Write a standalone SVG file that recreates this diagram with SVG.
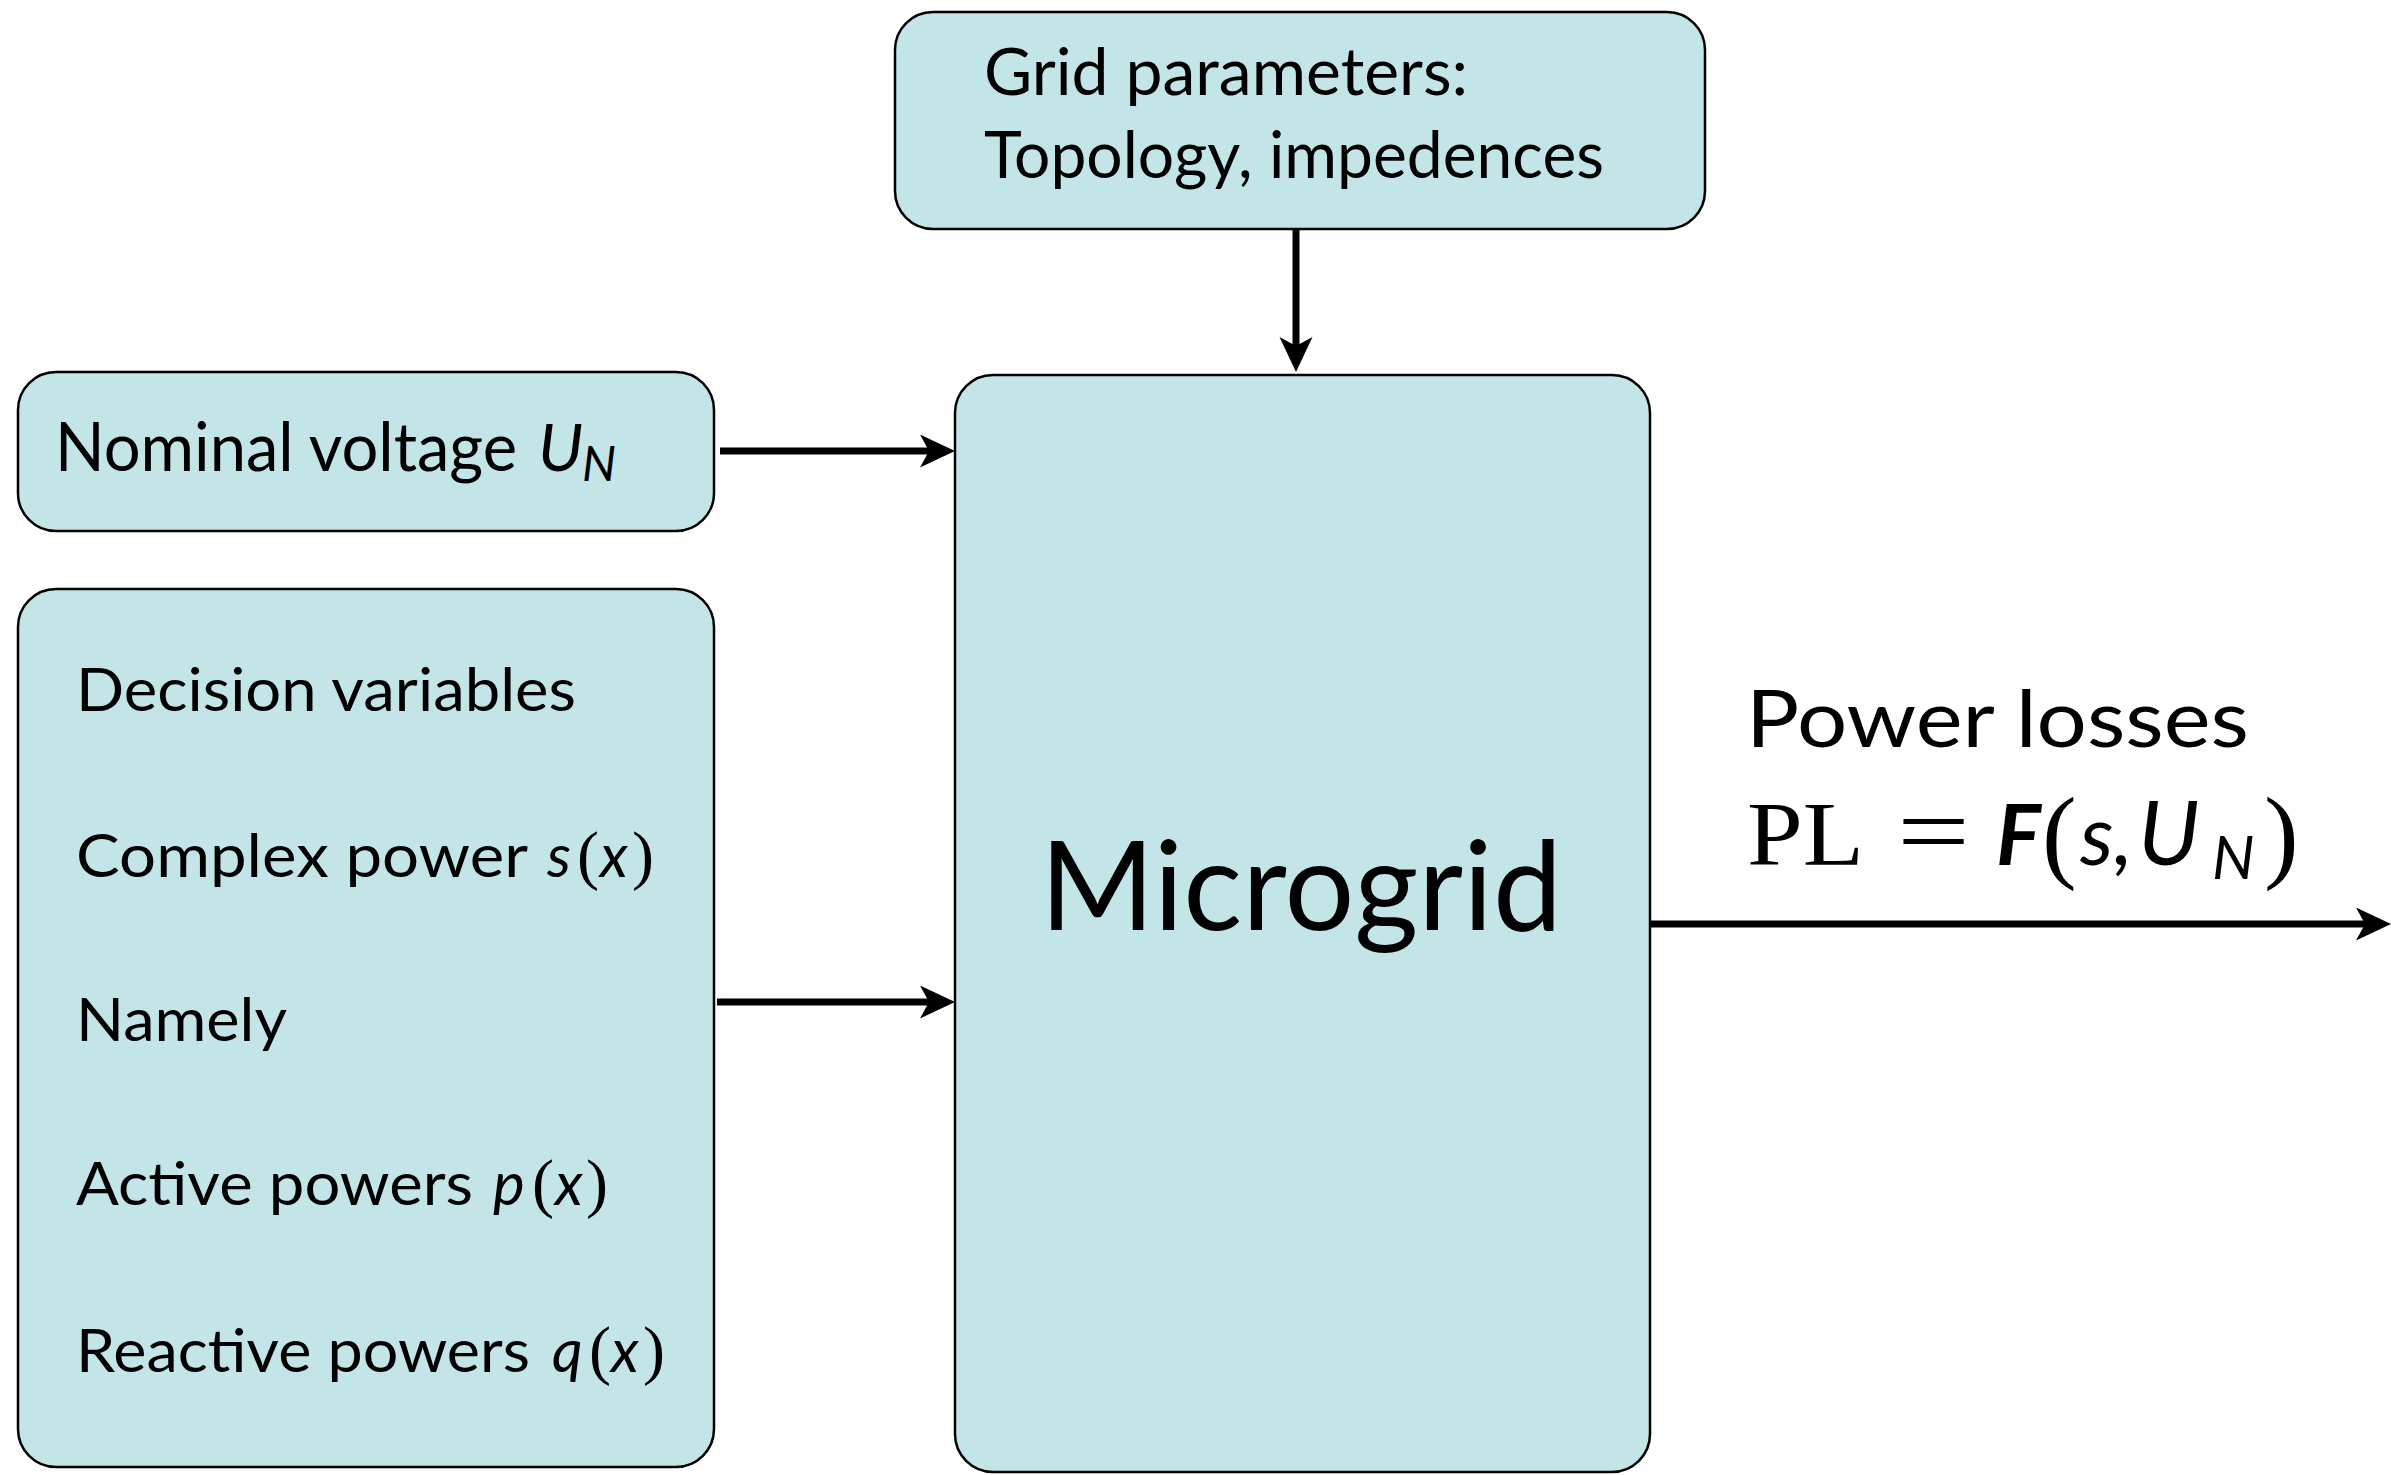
<svg xmlns="http://www.w3.org/2000/svg" width="2391" height="1475" viewBox="0 0 2391 1475">
<style>
.box{fill:#C4E5E8;stroke:#000;stroke-width:2.5}
.t{font-family:Lato,"Liberation Sans",sans-serif;fill:#000}
.m{font-family:"Liberation Serif",serif;fill:#000}
.i{font-style:italic}
.c{fill:none;stroke:#000;stroke-width:7}
</style>
<defs>
<marker id="ah" markerUnits="userSpaceOnUse" markerWidth="36" markerHeight="34" refX="15" refY="16.5" orient="auto">
<path d="M0,0 L35,16.5 L0,33 L9,16.5 z" fill="#000"/>
</marker>
</defs>
<g id="connectors">
<line class="c" x1="1296" y1="229" x2="1296" y2="352" marker-end="url(#ah)"/>
<line class="c" x1="720" y1="451" x2="935" y2="451" marker-end="url(#ah)"/>
<line class="c" x1="717" y1="1002" x2="935" y2="1002" marker-end="url(#ah)"/>
<line class="c" x1="1650" y1="924" x2="2371" y2="924" marker-end="url(#ah)"/>
</g>
<g id="grid">
<rect class="box" x="895" y="12" width="810" height="217" rx="38"/>
<text class="t" x="984" y="95" font-size="66" textLength="484" lengthAdjust="spacingAndGlyphs">Grid parameters:</text>
<text class="t" x="984" y="178" font-size="66" textLength="620" lengthAdjust="spacingAndGlyphs">Topology, impedences</text>
</g>
<g id="nominal">
<rect class="box" x="18" y="372" width="696" height="159" rx="38"/>
<text class="t" x="55" y="471" font-size="68" textLength="462" lengthAdjust="spacingAndGlyphs">Nominal voltage</text>
<text class="t i" x="538" y="471" font-size="66">U<tspan x="582" font-size="48" dy="10">N</tspan></text>
</g>
<g id="decision">
<rect class="box" x="18" y="589" width="696" height="878" rx="38"/>
<text class="t" x="76" y="711" font-size="60" textLength="500" lengthAdjust="spacingAndGlyphs">Decision variables</text>
<text class="t" y="877" font-size="60"><tspan x="76" textLength="452" lengthAdjust="spacingAndGlyphs">Complex power</tspan><tspan class="i" x="547">s</tspan><tspan class="m" x="577" font-size="66">(</tspan><tspan class="i" x="600">x</tspan><tspan class="m" x="632" font-size="66">)</tspan></text>
<text class="t" x="76" y="1041" font-size="60" textLength="211" lengthAdjust="spacingAndGlyphs">Namely</text>
<text class="t" y="1205" font-size="60"><tspan x="76" textLength="397" lengthAdjust="spacingAndGlyphs">Active powers</tspan><tspan class="i" x="493">p</tspan><tspan class="m" x="532" font-size="66">(</tspan><tspan class="i" x="555">x</tspan><tspan class="m" x="586" font-size="66">)</tspan></text>
<text class="t" y="1372" font-size="60"><tspan x="76" textLength="454" lengthAdjust="spacingAndGlyphs">Reactive powers</tspan><tspan class="i" x="552">q</tspan><tspan class="m" x="589" font-size="66">(</tspan><tspan class="i" x="611">x</tspan><tspan class="m" x="643" font-size="66">)</tspan></text>
</g>
<g id="microgrid">
<rect class="box" x="955" y="375" width="695" height="1097" rx="38"/>
<text class="t" x="1040" y="930" font-size="124" textLength="522" lengthAdjust="spacingAndGlyphs">Microgrid</text>
</g>
<g id="output">
<text class="t" x="1746" y="747" font-size="80" textLength="503" lengthAdjust="spacingAndGlyphs">Power losses</text>
<text y="865" font-size="84"><tspan class="m" x="1747" font-size="92" textLength="117" lengthAdjust="spacingAndGlyphs">PL</tspan><tspan class="m" x="1897" font-size="100" textLength="73" lengthAdjust="spacingAndGlyphs">=</tspan><tspan class="t i" x="1996" font-weight="bold">F</tspan><tspan class="m" x="2042" font-size="104" dy="4">(</tspan><tspan class="t i" x="2080" dy="-4">s</tspan><tspan class="t i" x="2114">,</tspan><tspan class="t i" x="2138" font-size="90">U</tspan><tspan class="t i" x="2212" font-size="60" dy="14">N</tspan><tspan class="m" x="2264" font-size="104" dy="-10">)</tspan></text>
</g>
</svg>
